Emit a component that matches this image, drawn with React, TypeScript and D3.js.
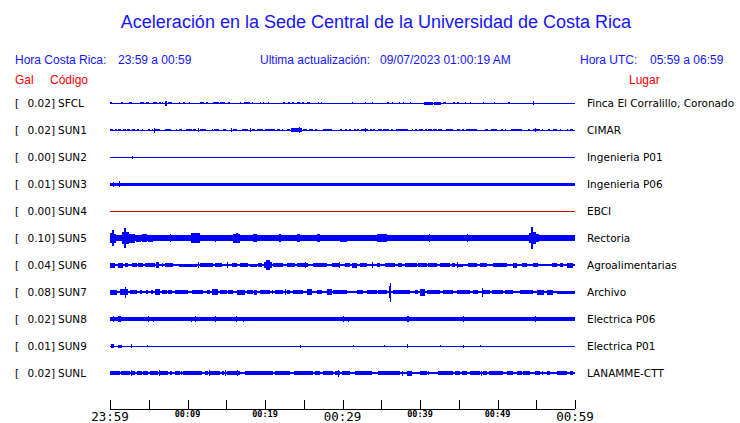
import React from "react";
import * as d3 from "d3";

const codes = ["SFCL", "SUN1", "SUN2", "SUN3", "SUN4", "SUN5", "SUN6", "SUN7", "SUN8", "SUN9", "SUNL"];
const galValues = ["0.02", "0.02", "0.00", "0.01", "0.00", "0.10", "0.04", "0.08", "0.02", "0.01", "0.02"];
const places = [
  "Finca El Corralillo, Coronado", "CIMAR", "Ingenieria P01", "Ingenieria P06", "EBCI",
  "Rectoria", "Agroalimentarias", "Archivo", "Electrica P06", "Electrica P01", "LANAMME-CTT",
];
// background noise half-amplitude of each trace
const baseAmp = [0.5, 0.5, 0.5, 1.5, 0.5, 2.6, 0.6, 0.7, 1.6, 0.5, 0.6];

type Ev = [number, number, number]; // [start minute, end minute, half amplitude]

const evSFCL: Ev[] = [[0,0.26,1.3],[1.42,1.68,1.3],[2.45,2.84,1.3],[3.87,4.39,1.3],[4.65,5.03,1.3],[5.55,6.06,1.3],[6.32,6.58,1.3],[6.7,6.84,1.3],[7.1,7.35,2.5],[7.48,8.0,1.3],[8.9,9.0,1.3],[9.4,9.7,1.3],[10.2,10.3,1.3],[11.6,12.1,1.3],[12.4,12.6,1.3],[13.3,14.1,1.3],[14.2,14.8,1.3],[15.2,15.5,1],[16.8,16.9,1.3],[17.3,18.1,1.3],[18.3,18.4,1.3],[19.4,19.5,1.3],[19.7,19.8,1.3],[20.4,20.5,1.3],[22.3,22.6,1.3],[23.0,23.2,1.3],[23.5,23.7,1.3],[24.1,24.5,1.3],[24.8,25.0,1.3],[25.4,25.8,1.3],[26.8,26.9,1.3],[27.2,27.3,1.3],[31.2,31.3,1.3],[32.9,33.0,1.3],[33.8,33.9,1.3],[35.7,36.0,1.3],[36.4,36.5,1.3],[37.3,37.4,1.3],[37.8,37.9,1.3],[38.7,38.8,1.3],[40.5,41.7,1.5],[41.8,42.7,1.5],[43.0,43.4,1.3],[44.3,44.5,1.3],[44.8,45.0,1.3],[45.8,45.9,1.3],[46.5,46.6,1.3],[48.1,48.2,1.3],[49.5,49.6,1.3],[51.4,51.6,1.3],[54.6,54.7,2]];

const evSUN1: Ev[] = [[0,0.43,1.3],[0.65,0.86,1.3],[1.07,1.38,1.3],[1.72,2.06,1.3],[2.15,2.58,1.3],[2.8,3.23,1.3],[3.44,3.78,1.3],[4.09,4.3,1.3],[4.95,5.16,1.3],[5.38,5.59,1.3],[5.68,5.75,2.5],[5.81,6.45,1.3],[7.1,7.83,1.3],[8.5,8.55,1.3],[8.95,9.25,1.3],[9.76,10.54,1.3],[10.75,11.1,1.3],[11.4,11.45,2.3],[11.61,12.39,1.3],[13.12,13.33,1.3],[13.46,14.1,1.3],[14.62,14.97,1.3],[15.57,15.62,2.2],[15.91,16.34,1.3],[17.0,17.85,1.3],[18.06,18.12,2.3],[18.28,18.71,1.3],[18.92,19.78,1.3],[20.0,20.34,1.3],[20.43,21.29,1.3],[21.5,21.94,1.3],[22.15,22.37,1.3],[22.8,23.23,1.3],[23.31,24.73,1.6],[24.4,24.47,2.6],[24.95,25.46,1.3],[25.72,26.24,1.3],[26.45,26.67,1.3],[27.53,28.6,1.3],[29.68,29.98,1.3],[30.32,30.54,1.3],[30.88,31.1,1.3],[31.48,31.74,1.3],[31.91,32.17,1.3],[32.35,33.33,1.3],[32.9,32.96,2.3],[33.55,33.76,1.3],[33.98,34.19,1.3],[34.62,35.06,1.3],[35.27,36.04,1.3],[36.21,36.47,1.3],[36.9,38.49,1.3],[38.93,39.14,1.3],[39.35,39.65,1.3],[39.91,40.43,1.3],[40.65,40.86,1.3],[41.07,41.5,1.3],[41.72,42.15,1.3],[42.37,42.8,1.3],[43.35,44.3,1.3],[44.73,45.16,1.3],[45.38,45.72,1.3],[45.94,47.4,1.3],[48.39,48.82,1.3],[49.12,49.98,1.3],[50.45,50.75,1.3],[50.97,51.03,1.3],[51.7,53.12,1.3],[53.98,54.19,1.3],[54.62,55.48,1.3],[54.8,54.87,2.2],[55.7,55.76,1.3],[56.56,56.77,1.3],[57.2,57.63,1.3],[58.06,58.12,1.3],[58.93,59.14,1.3],[59.35,59.78,1.3]];

const evSUN2: Ev[] = [[2.84,2.9,1.5]];

const evSUN3: Ev[] = [[0.39,0.45,2.5],[1.16,1.22,2.8]];

const evSUN4: Ev[] = [];

const evSUN5: Ev[] = [[0,0.2,5],[0.2,0.5,7.7],[0.5,0.8,4.5],[1.6,1.8,6],[1.8,2.0,10],[2.0,2.4,6],[2.4,3.2,4.5],[3.3,4.0,3.5],[4.1,4.8,4],[4.9,5.6,3.5],[6.2,6.4,3.3],[7.7,7.8,4],[8.8,8.9,3.3],[10.5,11.6,5],[11.8,12.8,3.3],[13.5,13.7,3.5],[14.2,14.8,3.2],[15.9,16.8,4.5],[16.2,16.5,5.3],[18.2,18.3,3.3],[18.5,19.0,3.6],[20.0,20.8,3.2],[21.8,22.1,4.2],[22.6,23.2,3.3],[24.1,24.5,3.8],[25.1,25.2,3.3],[26.7,27.1,4.2],[28.8,28.9,3.3],[29.5,29.6,3.3],[29.7,30.6,3.5],[31.2,31.6,3.2],[34.4,35.7,3.6],[37.4,37.5,3.3],[41.1,41.2,3.6],[43.0,43.1,3.2],[46.0,46.2,3.6],[52.9,53.0,3.3],[54.0,54.3,5],[54.3,54.6,11],[54.6,55.0,6],[55.0,55.4,4]];

const evSUN6: Ev[] = [[0,0.65,2.5],[1.07,1.64,2.5],[1.94,2.37,1.7],[2.8,3.44,1.7],[3.66,4.3,1.7],[4.52,5.81,1.7],[5.94,6.37,3],[6.67,6.88,1.7],[7.1,8.17,1.7],[8.95,11.19,1.5],[11.4,11.46,2.8],[11.61,13.33,1.7],[13.55,14.41,1.7],[15.05,15.11,3],[15.7,16.43,1.7],[16.77,17.85,1.7],[18.06,18.92,1.5],[19.14,19.57,1.7],[19.9,20.1,3],[20.1,20.6,4.7],[20.6,20.9,3],[21.07,22.37,1.7],[22.8,23.87,1.7],[24.09,25.59,1.7],[25.16,25.22,3],[26.24,27.96,1.7],[28.68,29.68,1.7],[29.57,29.63,3],[30.32,30.97,1.7],[31.18,31.83,2.5],[32.26,33.12,1.7],[33.76,33.98,2.7],[34.41,34.84,1.7],[35.48,36.77,1.7],[37.2,37.63,1.7],[38.06,39.57,1.7],[39.78,40.86,1.7],[41.07,42.15,1.7],[42.58,43.87,1.7],[44.09,44.52,1.7],[44.73,44.8,2.7],[44.95,45.59,1.5],[46.24,47.4,1.7],[47.74,48.6,1.7],[49.46,51.18,1.7],[52.04,52.47,2.5],[53.12,53.76,1.7],[54.62,55.27,1.7],[56.99,57.63,1.7],[58.06,58.49,1.7],[58.93,59.78,2.5]];

const evSUN7: Ev[] = [[0,0.86,2.5],[1.29,2.37,3.3],[1.9,2.0,5.5],[2.58,3.44,1.7],[3.9,4.1,1.7],[4.6,4.9,1.7],[5.3,5.5,1.7],[5.81,6.45,3],[6.67,7.31,1.7],[7.53,7.96,1.7],[8.39,10.11,1.7],[10.54,12.04,1.7],[12.47,12.9,1.7],[13.12,13.98,3],[14.19,15.05,1.7],[15.27,15.91,1.7],[16.34,17.42,2.5],[17.63,18.49,1.7],[18.62,18.92,2.5],[19.35,20.65,2],[20.86,21.07,1.7],[21.29,22.37,1.7],[22.55,22.62,3],[22.8,23.23,1.7],[23.57,24.95,2],[25.38,26.02,3],[26.67,27.31,1.7],[27.96,28.6,3],[28.82,30.54,1.7],[31.83,32.69,1.7],[33.12,34.41,1.7],[34.62,35.7,2],[36.0,36.3,6],[36.1,36.2,9.5],[36.56,38.71,2],[39.35,39.78,1.7],[40.0,40.65,3.5],[40.95,42.58,1.7],[43.0,44.3,1.7],[44.73,46.45,1.7],[46.88,47.52,1.7],[47.96,48.03,4.5],[48.17,49.03,1.7],[49.25,50.75,2],[50.97,52.04,1.7],[52.9,54.62,1.7],[55.05,56.0,2.5],[56.34,57.2,2.5],[57.63,60,1.5]];

const evSUN8: Ev[] = [[0.4,0.47,2.7],[1.07,1.38,2.7],[1.94,2.0,2.2],[3.65,3.7,2.2],[4.95,5.0,2.7],[5.5,5.56,2.5],[6.67,6.73,2.2],[10.4,10.46,2.5],[10.97,11.03,2.7],[13.55,13.6,2.7],[16.26,16.32,2.7],[17.12,17.18,2.5],[24.09,24.3,2.3],[30.02,30.08,2.7],[30.54,30.6,2.3],[30.75,30.8,2.5],[31.0,31.8,2.0],[34.62,37.2,2.3],[37.3,37.9,2.0],[38.28,38.58,3],[39.35,39.4,2.2],[40.2,40.26,2.2],[42.58,42.64,2.2],[45.5,45.7,3],[47.3,47.36,2.2],[50.23,50.3,2.2],[54.84,54.9,2.7]];

const evSUN9: Ev[] = [[0.13,0.52,2],[1.07,1.5,1.5],[2.7,2.77,1.7],[4.82,4.88,1.3],[24.5,24.56,1.5],[31.4,31.46,1.3],[35.4,35.46,1.3],[38.28,38.5,2],[42.58,42.64,1.3],[45.5,45.56,1.5],[47.74,47.8,1.3]];

const evSUNL: Ev[] = [[0,1.29,1.7],[1.38,2.58,1.7],[2.7,2.77,2.7],[2.8,3.23,1.7],[3.44,4.09,1.7],[4.3,4.95,1.7],[5.16,6.24,1.7],[6.3,6.37,2.7],[6.45,7.53,1.7],[7.74,7.96,1.7],[8.39,9.03,1.7],[9.16,9.22,2.3],[9.46,11.83,1.7],[12.26,12.69,1.7],[12.8,12.86,2.7],[12.9,14.19,1.7],[14.41,14.71,1.7],[14.88,14.94,2.7],[15.05,16.77,1.7],[16.43,16.5,2.7],[17.42,21.07,1.7],[21.29,23.23,1.7],[23.78,26.24,1.7],[26.45,27.1,1.7],[27.44,28.82,1.7],[29.03,29.68,1.7],[29.4,29.47,3.5],[29.9,30.97,1.7],[31.61,33.76,1.7],[34.62,37.42,1.7],[37.63,37.7,2.5],[38.28,38.93,2.5],[40.0,40.86,1.7],[41.07,41.2,1.7],[42.37,44.3,1.7],[44.52,45.16,1.7],[45.38,46.02,2],[46.45,47.74,1.7],[47.82,47.88,2.5],[48.17,48.6,1.7],[48.95,50.75,1.7],[51.18,52.04,1.7],[52.47,53.12,1.7],[53.33,54.19,1.7],[54.84,55.48,1.7],[55.7,55.76,1.7],[56.34,56.77,1.7],[57.63,58.93,1.7],[59.35,59.78,1.7]];

const events: Ev[][] = [evSFCL, evSUN1, evSUN2, evSUN3, evSUN4, evSUN5, evSUN6, evSUN7, evSUN8, evSUN9, evSUNL];

const tickMinutes = [0, 5, 10, 15, 20, 25, 30, 35, 40, 45, 50, 55, 60];
const labelMinutes = [0, 10, 20, 30, 40, 50, 60];
const tickLabels = ["23:59", "00:09", "00:19", "00:29", "00:39", "00:49", "00:59"];
const majorLabels = ["23:59", "00:29", "00:59"];

const W = 740, H = 423;
const BLUE = "#0000ff";
const TXT_BLUE = "#1414ff";
const RED = "#ff0000";

export default function App() {
  const x = d3.scaleLinear().domain([0, 60]).range([110, 575]);
  const y = d3.scalePoint<string>().domain(codes).range([103, 373]);
  const a = d3.scaleLinear().domain([0, 1]).range([0, 1]);
  const sans = "'Liberation Sans', Arial, sans-serif";
  const dv = "'DejaVu Sans', sans-serif";
  const mono = "'DejaVu Sans Mono', monospace";

  return (
    <svg width={W} height={H} style={{ position: "absolute", left: 0, top: 0, background: "#fff" }}>
      <rect width={W} height={H} fill="#fff" />
      <text x={376} y={28} textAnchor="middle" fontFamily={sans} fontSize={18} fill={TXT_BLUE}>
        Aceleración en la Sede Central de la Universidad de Costa Rica
      </text>
      <g fontFamily={sans} fontSize={12} fill={TXT_BLUE}>
        <text x={15} y={64}>Hora Costa Rica:</text>
        <text x={118} y={64}>23:59 a 00:59</text>
        <text x={260} y={64}>Ultima actualización:</text>
        <text x={380} y={64}>09/07/2023 01:00:19 AM</text>
        <text x={580} y={64}>Hora UTC:</text>
        <text x={650} y={64}>05:59 a 06:59</text>
      </g>
      <g fontFamily={sans} fontSize={12} fill={RED}>
        <text x={15} y={84}>Gal</text>
        <text x={50} y={84}>Código</text>
        <text x={629} y={84}>Lugar</text>
      </g>
      {codes.map((c, i) => {
        const yc = y(c)!;
        const col = c === "SUN4" ? "#cc0000" : BLUE;
        const b = a(baseAmp[i]);
        return (
          <g key={c}>
            <g fontFamily={dv} fontSize={10.5} fill="#000">
              <text x={15} y={yc + 4}>[</text>
              <text x={55} y={yc + 4} textAnchor="end">{galValues[i] + "]"}</text>
              <text x={58} y={yc + 4}>{c}</text>
              <text x={587} y={yc + 4}>{places[i]}</text>
            </g>
            <g fill={col} shapeRendering="crispEdges">
              <rect x={x(0)} width={x(60) - x(0)} y={yc - b} height={Math.max(1, 2 * b)} />
              {events[i].map((e, j) => {
                const x0 = x(e[0]);
                const w = Math.max(1, x(e[1]) - x0);
                const h = a(e[2]);
                return <rect key={j} x={x0} width={w} y={yc - h} height={2 * h} />;
              })}
            </g>
          </g>
        );
      })}
      <g shapeRendering="crispEdges" stroke="#000">
        <line x1={x(0)} x2={x(60)} y1={409.5} y2={409.5} />
        {tickMinutes.map((m) => (
          <line key={m} x1={Math.round(x(m)) + 0.5} x2={Math.round(x(m)) + 0.5} y1={400} y2={409} />
        ))}
      </g>
      {labelMinutes.map((m, i) => {
        const major = majorLabels.includes(tickLabels[i]);
        return (
          <text
            key={m}
            x={x(m)}
            y={major ? 421 : 417}
            textAnchor="middle"
            fontFamily={mono}
            fontSize={major ? 12.5 : 8.5}
            fontWeight={major ? "normal" : "bold"}
            fill="#000"
          >
            {tickLabels[i]}
          </text>
        );
      })}
    </svg>
  );
}
